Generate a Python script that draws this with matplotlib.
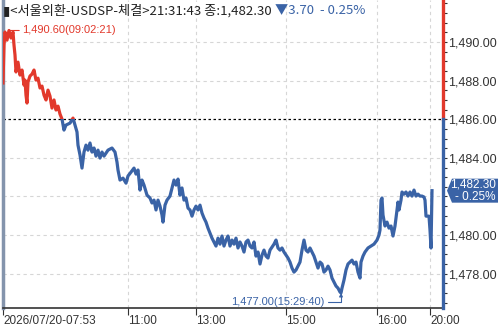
import matplotlib.pyplot as plt
from matplotlib.patches import Rectangle, Polygon
from matplotlib.ticker import MultipleLocator

# sample position along the (non-linear) time axis and traded price
pos = [0, 1, 2, 4, 6, 8, 10, 11, 12, 13, 15, 17, 19, 21, 22, 23, 24, 25, 27, 29,
       31, 33, 35, 37, 39, 41, 43, 45, 47, 49, 51, 53, 55, 57, 59, 61, 63, 67, 70, 72,
       74, 75, 77, 79, 81, 83, 85, 87, 89, 91, 93, 95, 97, 99, 101, 105, 109, 112, 114, 115,
       117, 120, 123, 125, 128, 131, 133, 135, 137, 139, 141, 144, 147, 149, 151, 153, 155, 157, 159, 160,
       162, 164, 167, 169, 171, 173, 175, 177, 179, 181, 183, 185, 187, 189, 191, 193, 195, 197, 199, 201,
       203, 205, 207, 209, 211, 213, 215, 217, 219, 221, 223, 225, 227, 229, 231, 233, 235, 237, 239, 241,
       243, 245, 247, 249, 251, 253, 255, 257, 259, 261, 263, 265, 267, 269, 271, 273, 275, 277, 279, 281,
       283, 285, 287, 289, 291, 293, 295, 297, 299, 301, 303, 305, 307, 309, 311, 313, 315, 317, 319, 321,
       323, 325, 327, 329, 331, 333, 335, 337, 338, 339, 341, 343, 345, 347, 349, 351, 353, 355, 357, 358,
       360, 362, 365, 368, 371, 374, 376, 377, 378, 379, 380, 382, 384, 386, 388, 390, 392, 394, 395, 396,
       398, 399, 401, 403, 405, 407, 409, 411, 413, 415, 417, 419, 421, 422, 423, 426, 427, 428, 429]
price = [1487.88, 1489.84, 1490.52, 1490.10, 1490.60, 1490.21, 1490.52, 1489.84, 1489.33, 1488.45,
         1488.96, 1488.29, 1488.55, 1487.77, 1488.03, 1487.25, 1486.84, 1487.93, 1488.24, 1488.34,
         1488.55, 1488.03, 1488.13, 1487.62, 1487.72, 1487.25, 1487.00, 1487.51, 1487.20, 1486.58,
         1487.00, 1486.48, 1486.68, 1486.27, 1486.01, 1485.44, 1485.70, 1485.80, 1486.06, 1485.70,
         1485.34, 1484.66, 1484.15, 1483.47, 1484.30, 1484.66, 1484.40, 1484.77, 1484.30, 1484.51,
         1484.09, 1484.40, 1483.99, 1484.30, 1484.09, 1484.40, 1484.51, 1484.30, 1483.78, 1483.37,
         1482.85, 1482.95, 1482.69, 1483.06, 1483.26, 1483.47, 1483.16, 1483.37, 1482.33, 1482.85,
         1482.59, 1482.07, 1481.92, 1481.66, 1481.81, 1481.30, 1481.81, 1481.50, 1481.04, 1480.67,
         1481.55, 1481.81, 1482.02, 1482.44, 1482.85, 1482.59, 1482.90, 1482.07, 1482.44, 1481.81,
         1481.92, 1481.40, 1481.30, 1480.98, 1481.30, 1481.50, 1481.30, 1481.55, 1481.14, 1480.88,
         1480.67, 1480.36, 1480.10, 1479.84, 1479.64, 1479.43, 1479.84, 1479.53, 1479.95, 1479.43,
         1479.74, 1479.95, 1479.43, 1479.74, 1479.53, 1479.84, 1479.33, 1479.64, 1479.43, 1479.12,
         1479.64, 1479.74, 1479.43, 1479.33, 1479.64, 1478.91, 1479.12, 1478.50, 1478.96, 1479.22,
         1478.91, 1478.81, 1479.22, 1479.38, 1479.53, 1479.74, 1479.33, 1479.22, 1479.33, 1479.12,
         1478.96, 1478.81, 1478.60, 1478.29, 1478.08, 1478.19, 1478.39, 1478.60, 1479.22, 1479.74,
         1479.22, 1479.12, 1479.33, 1479.12, 1478.91, 1478.60, 1478.29, 1478.60, 1478.50, 1478.08,
         1478.19, 1478.39, 1478.19, 1477.77, 1477.57, 1477.36, 1477.25, 1477.05, 1477.00, 1477.25,
         1477.67, 1478.19, 1478.50, 1478.60, 1478.70, 1478.50, 1478.60, 1478.08, 1477.77, 1478.60,
         1478.91, 1479.12, 1479.33, 1479.43, 1479.53, 1479.74, 1480.00, 1480.26, 1481.81, 1481.92,
         1481.04, 1480.47, 1480.67, 1480.36, 1480.47, 1479.95, 1480.47, 1481.30, 1481.71, 1481.30,
         1481.81, 1482.23, 1482.12, 1482.23, 1482.02, 1482.23, 1482.02, 1482.33, 1482.02, 1482.12,
         1482.02, 1482.02, 1481.97, 1481.81, 1480.98, 1480.98, 1480.26, 1479.33, 1482.30]

prev_close = 1486.00
last_price = 1482.30
change = -3.70
change_pct = -0.25
hi_pos, hi_price, hi_time = 6, 1490.60, '09:02:21'
lo_pos, lo_price, lo_time = 338, 1477.00, '15:29:40'

tick_pos = [0, 125, 193, 283, 374, 427]
tick_labels = ['2026/07/20-07:53', '11:00', '13:00', '15:00', '16:00', '20:00']
y_ticks = [1478, 1480, 1482, 1484, 1486, 1488, 1490]

RED = '#e2392c'
BLUE = '#3a63a6'
GRID = '#d6d6d6'
TXT = '#333333'
NUM_FONT = 'Liberation Sans'
KR_FONT = ['Noto Sans CJK KR', 'DejaVu Sans']

x0, x1 = 0, 440
y0, y1 = 1476.22, 1492.18

fig = plt.figure(figsize=(5, 3.26), dpi=100)
ax = fig.add_axes([0.006, 0.0552, 0.88, 0.9448])
ax.set_xlim(x0, x1)
ax.set_ylim(y0, y1)

# grid
for y in y_ticks:
    if y == prev_close:
        ax.axhline(y, color='black', lw=0.9, ls=(0, (2, 2)), zorder=1)
    else:
        ax.axhline(y, color=GRID, lw=0.8, ls=(0, (3, 3)), zorder=0)
for x in tick_pos[1:]:
    ax.axvline(x, color=GRID, lw=0.8, ls=(0, (3, 3)), zorder=0)

# price line: red above previous close, blue below
for color, ry in [(RED, prev_close), (BLUE, prev_close - 30)]:
    ln, = ax.plot(pos, price, color=color, lw=2.3, zorder=3)
    ln.set_clip_path(Rectangle((x0, ry), x1 - x0, 30, transform=ax.transData))

# right axis (the 1,482.00 label sits under the last-price tag)
ax.yaxis.tick_right()
ax.set_yticks(y_ticks, ['' if v == 1482 else f'{v:,.2f}' for v in y_ticks])
ax.yaxis.set_minor_locator(MultipleLocator(0.5))
ax.tick_params(axis='y', which='both', direction='out', length=3, width=0.8,
               color=TXT, pad=1, labelsize=9, labelcolor=TXT)
for lab in ax.get_yticklabels():
    lab.set_fontfamily(NUM_FONT)

ax.spines['right'].set_visible(False)
ax.spines['top'].set_visible(False)
ax.spines['left'].set_color('#8494ac')
ax.spines['left'].set_linewidth(2.5)
ax.spines['bottom'].set_color(TXT)
ax.spines['bottom'].set_linewidth(1.2)
yt = ax.get_yaxis_transform()
ax.plot([1, 1], [prev_close, y1], transform=yt, color=RED, lw=2.4, clip_on=False, zorder=5)
ax.plot([1, 1], [y0, prev_close], transform=yt, color=BLUE, lw=2.4, clip_on=False, zorder=5)

# bottom axis
ax.set_xticks(tick_pos, tick_labels)
ax.tick_params(axis='x', direction='out', length=5, width=0.8, color=TXT,
               pad=0, labelsize=8.5, labelcolor=TXT)
for lab in ax.get_xticklabels():
    lab.set_ha('left')
    lab.set_fontfamily(NUM_FONT)

# high / low markers
ax.annotate(f'{hi_price:,.2f}({hi_time})', xy=(hi_pos, hi_price), xytext=(19, hi_price),
            color=RED, fontsize=8, family=NUM_FONT, ha='left', va='center',
            arrowprops=dict(arrowstyle='-', color=RED, lw=0.8, shrinkA=0, shrinkB=0))
ax.annotate(f'{lo_price:,.2f}({lo_time})', xy=(lo_pos, lo_price), xytext=(321, 1476.53),
            color=BLUE, fontsize=8, family=NUM_FONT, ha='right', va='center',
            arrowprops=dict(arrowstyle='-|>', mutation_scale=5, color=BLUE, lw=0.8,
                            shrinkA=1, shrinkB=0,
                            connectionstyle='angle,angleA=0,angleB=90,rad=0'))

# last price tag
px = 1 / 440
half = 12 / 19.3
ax.add_patch(Polygon([(1 + 4 * px, last_price), (1 + 9 * px, last_price + half),
                      (1 + 55 * px, last_price + half), (1 + 55 * px, last_price - half),
                      (1 + 9 * px, last_price - half)],
                     closed=True, transform=yt, clip_on=False, fc=BLUE, ec='none', zorder=6))
ax.text(1 + 53 * px, last_price + 0.3, f'{last_price:,.2f}', transform=yt, ha='right',
        va='center', color='white', fontsize=8.5, family=NUM_FONT, zorder=7)
ax.text(1 + 53 * px, last_price - 0.33, f'- {abs(change_pct):.2f}%', transform=yt, ha='right',
        va='center', color='white', fontsize=8.5, family=NUM_FONT, zorder=7)

# header
t1 = fig.text(0.006, 1 - 11 / 326, f'▮<서울외환-USDSP-체결>21:31:43 종:{last_price:,.2f} ',
              family=KR_FONT, fontsize=9.5, color='#222222', va='center', ha='left')
ax.annotate(f'▼{abs(change):.2f}  - {abs(change_pct):.2f}%', xy=(1, 0.5), xycoords=t1,
            family=KR_FONT, fontsize=9.5, color=BLUE, va='center', ha='left')

fig.savefig('out.png', dpi=100)
